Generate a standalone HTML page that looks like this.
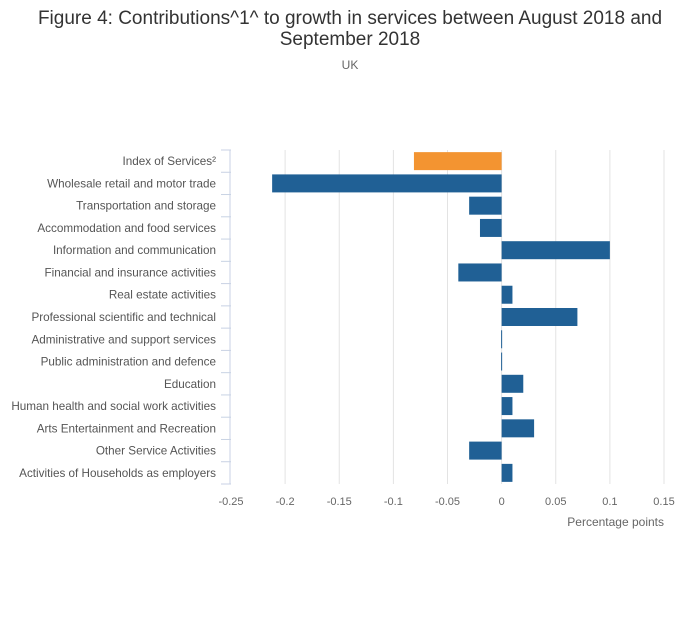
<!DOCTYPE html>
<html><head><meta charset="utf-8"><style>
body{margin:0;background:#fff;font-family:"Liberation Sans",sans-serif;}
svg text{font-family:"Liberation Sans",sans-serif;}
</style></head><body>
<svg width="700" height="635">
<text x="350" y="24" text-anchor="middle" font-size="19" fill="#333">Figure 4: Contributions^1^ to growth in services between August 2018 and</text>
<text x="350" y="45" text-anchor="middle" font-size="19" fill="#333">September 2018</text>
<text x="350" y="69" text-anchor="middle" font-size="12" fill="#666">UK</text>
<g id="grid"></g><g id="bars"></g><g id="axes"></g>
<text x="664" y="526" text-anchor="end" font-size="12" fill="#666">Percentage points</text>
</svg>
<script>
const categories=["Index of Services²","Wholesale retail and motor trade","Transportation and storage","Accommodation and food services","Information and communication","Financial and insurance activities","Real estate activities","Professional scientific and technical","Administrative and support services","Public administration and defence","Education","Human health and social work activities","Arts Entertainment and Recreation","Other Service Activities","Activities of Households as employers"];
const values=[-0.081,-0.212,-0.03,-0.02,0.1,-0.04,0.01,0.07,-0.0005,-0.0005,0.02,0.01,0.03,-0.03,0.01];
const ticks=[-0.25,-0.2,-0.15,-0.1,-0.05,0,0.05,0.1,0.15];
const tickLabels=["-0.25","-0.2","-0.15","-0.1","-0.05","0","0.05","0.1","0.15"];
const NS="http://www.w3.org/2000/svg";
const x0=231,x1=664,plotTop=150,plotBot=484;
const xs=v=>x0+(v+0.25)/0.4*(x1-x0);
const band=(plotBot-plotTop)/categories.length;
const yc=i=>plotTop+band*(i+0.5);
function mk(t,a,p){const e=document.createElementNS(NS,t);for(const k in a)e.setAttribute(k,a[k]);p.appendChild(e);return e;}
const g=document.getElementById('grid'),b=document.getElementById('bars'),ax=document.getElementById('axes');
ticks.forEach((t,i)=>{
 if(i>0){const l=mk('line',{x1:xs(t),x2:xs(t),y1:plotTop,y2:plotBot,stroke:'#e3e3e3','stroke-width':1},g);
 
 }
 const tx=mk('text',{x:xs(t),y:505,'text-anchor':'middle','font-size':11,fill:'#666'},ax);tx.textContent=tickLabels[i];
 
 
});
const al=mk('line',{x1:x0-1,x2:x0-1,y1:plotTop,y2:plotBot,stroke:'#c8d2e4','stroke-width':1},ax);


for(let i=0;i<=categories.length;i++){const y=plotTop+band*i;
 const tk=mk('line',{x1:x0-10,x2:x0,y1:y,y2:y,stroke:'#c8d2e4','stroke-width':1},ax);
 
 }
categories.forEach((c,i)=>{
 const v=values[i];let xa=xs(Math.min(0,v)),w=Math.abs(xs(v)-xs(0));if(w<1){w=1;xa=xs(0)-0.5;}
 const r=mk('rect',{x:xa,y:yc(i)-9,width:w,height:18,fill:i===0?'#f39431':'#206095'},b);
 
 
 const t=mk('text',{x:216,y:yc(i)+4,'text-anchor':'end','font-size':11.7,fill:'#555'},ax);t.textContent=c;
 
 
});
</script>
</body></html>
